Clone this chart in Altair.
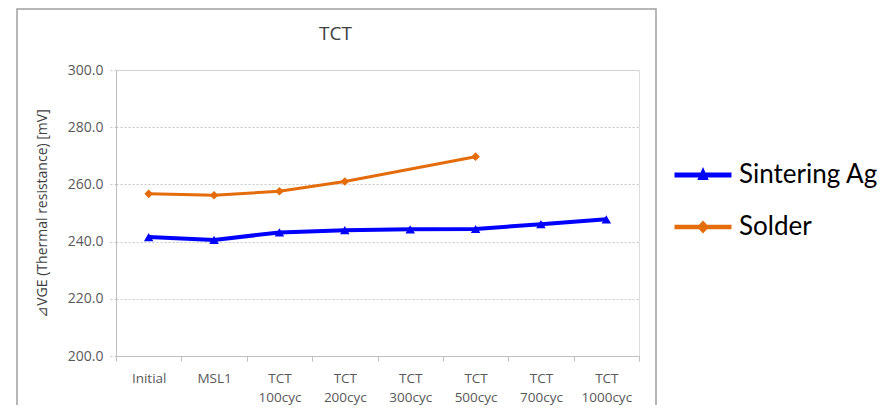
import altair as alt
import pandas as pd

categories = ["Initial", "MSL1", "TCT 100cyc", "TCT 200cyc", "TCT 300cyc",
              "TCT 500cyc", "TCT 700cyc", "TCT 1000cyc"]
series_names = ["Sintering Ag", "Solder"]
sintering_ag = [241.6, 240.6, 243.2, 244.0, 244.3, 244.4, 246.1, 247.8]
solder = [256.7, 256.2, 257.6, 261.0, None, 269.7, None, None]
y_ticks = [200, 220, 240, 260, 280, 300]
colors = ["#0000ff", "#e46c0a"]

rows = []
for c, v in zip(categories, sintering_ag):
    rows.append({"cat": c, "series": "Sintering Ag", "value": v})
for c, v in zip(categories, solder):
    if v is not None:
        rows.append({"cat": c, "series": "Solder", "value": v})
df = pd.DataFrame(rows)

W, H = 523, 286
FONT = "Open Sans"

x_enc = alt.X("cat:N", sort=categories, scale=alt.Scale(domain=categories, paddingInner=0, paddingOuter=0),
              axis=alt.Axis(title=None, labelExpr="split(datum.label, ' ')", labelAngle=0,
                            tickBand="extent", grid=False, domainColor="#bfbfbf", tickColor="#bfbfbf",
                            tickSize=5, labelFont=FONT, labelFontSize=13.5, labelColor="#595959",
                            labelPadding=10, labelLineHeight=19))
y_enc = alt.Y("value:Q", scale=alt.Scale(domain=[200, 300], nice=False, zero=False),
              axis=alt.Axis(values=y_ticks, format=".1f", title="⊿VGE (Thermal resistance) [mV]",
                            titleFont=FONT, titleFontSize=14, titleFontWeight="normal", titleColor="#404040",
                            titlePadding=18, labelFont=FONT, labelFontSize=14, labelColor="#595959",
                            labelPadding=6, domainColor="#bfbfbf", tickColor="#c8c8c8", tickSize=7,
                            tickDash=[2, 2], grid=True, gridColor="#c8c8c8", gridDash=[2, 2]))
color_scale = alt.Scale(domain=series_names, range=colors)

frame = alt.Chart(pd.DataFrame({"a": [0]})).mark_rect(fill=None, stroke="#a0a0a0", strokeWidth=1.5).encode(
    x=alt.value(-99), x2=alt.value(540), y=alt.value(-61), y2=alt.value(380))

base = alt.Chart(df)
line_ag = base.transform_filter(alt.datum.series == "Sintering Ag").mark_line(
    color=colors[0], strokeWidth=4).encode(x=x_enc, y=y_enc)
line_so = base.transform_filter(alt.datum.series == "Solder").mark_line(
    color=colors[1], strokeWidth=3).encode(x=x_enc, y=y_enc)
tri = base.transform_filter(alt.datum.series == "Sintering Ag").mark_point(
    shape="triangle-up", filled=True, size=90, opacity=1, color=colors[0]).encode(x=x_enc, y=y_enc)
dia = base.transform_filter(alt.datum.series == "Solder").mark_point(
    shape="diamond", filled=True, size=75, opacity=1, color=colors[1]).encode(x=x_enc, y=y_enc)

leg_tri = "M-1.5,-0.13H1.5V0.13H-1.5Z M0,-0.42L0.3,0.26H-0.3Z"
leg_dia = "M-1.5,-0.12H1.5V0.12H-1.5Z M0,-0.34L0.32,0L0,0.34L-0.32,0Z"
legend_layer = base.transform_filter("false").mark_point(filled=True, opacity=1).encode(
    x=x_enc, y=y_enc,
    color=alt.Color("series:N", scale=color_scale,
                    legend=alt.Legend(title=None, orient="none", legendX=568, legendY=86,
                                      labelFont="Lato", labelFontSize=26, labelColor="#000000",
                                      symbolSize=1444, symbolOpacity=1, symbolStrokeWidth=0,
                                      labelOffset=17, rowPadding=20, padding=0)),
    shape=alt.Shape("series:N", scale=alt.Scale(domain=series_names, range=[leg_tri, leg_dia])))

chart = alt.layer(frame, line_ag, line_so, tri, dia, legend_layer).properties(
    width=W, height=H,
    title=alt.TitleParams("TCT", font=FONT, fontSize=19, fontWeight="normal", color="#404040",
                          anchor="middle", dx=-42, offset=-36),
    autosize=alt.AutoSizeParams(type="none"),
    padding={"left": 108, "top": 62, "right": 245, "bottom": 49},
).configure_view(stroke=None).configure(background="white")

chart.save("out.html", embed_options={"renderer": "svg", "actions": False})
